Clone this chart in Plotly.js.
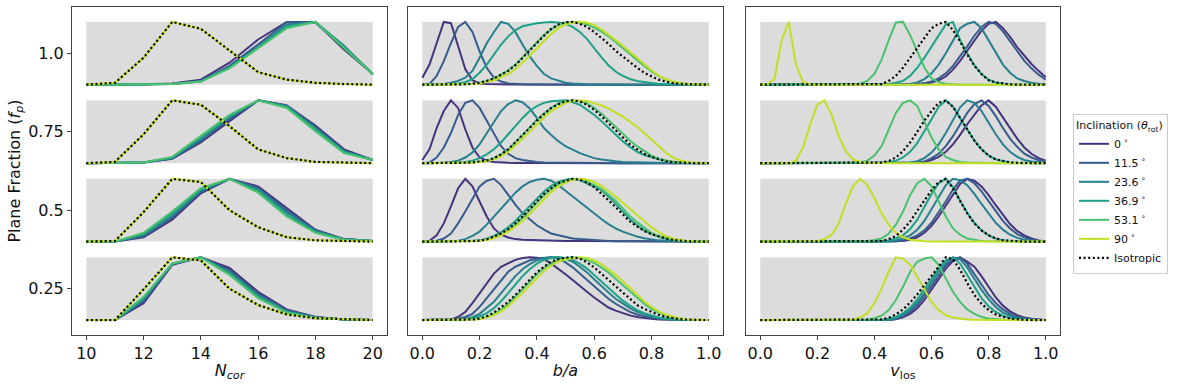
<!DOCTYPE html>
<html>
<head>
<meta charset="utf-8">
<script src="https://cdn.plot.ly/plotly-3.0.1.min.js"></script>
<style>
  html, body { margin: 0; padding: 0; background: #fff; }
  #chart { width: 1177px; height: 386px; }
</style>
</head>
<body>
<div id="chart"></div>
<script>
// plane fractions (one grey band per value) and inclination series
const planeFractions = [1.0, 0.75, 0.5, 0.25];
const seriesNames = ['0<sup> ∘</sup>', '11.5<sup> ∘</sup>', '23.6<sup> ∘</sup>', '36.9<sup> ∘</sup>', '53.1<sup> ∘</sup>', '90<sup> ∘</sup>', 'Isotropic'];
const seriesColors = ['#46337e', '#365c8d', '#277f8e', '#1fa187', '#4ac16d', '#c2df23', '#000000'];

const ncorX = [10, 11, 12, 13, 14, 15, 16, 17, 18, 19, 20];
const unitX = [0, 0.025, 0.05, 0.075, 0.1, 0.125, 0.15, 0.175, 0.2, 0.225, 0.25, 0.275, 0.3, 0.325, 0.35, 0.375,
  0.4, 0.425, 0.45, 0.475, 0.5, 0.525, 0.55, 0.575, 0.6, 0.625, 0.65, 0.675, 0.7, 0.725, 0.75, 0.775,
  0.8, 0.825, 0.85, 0.875, 0.9, 0.925, 0.95, 0.975, 1.0];

// normalised distributions (peak = 1), rows: 0, 11.5, 23.6, 36.9, 53.1, 90 deg, isotropic
const ncorF100 = [
  [0, 0, 0.005, 0.02, 0.08, 0.35, 0.72, 1.0, 0.995, 0.56, 0.17],
  [0, 0, 0.004, 0.015, 0.06, 0.3, 0.64, 1.0, 0.99, 0.6, 0.17],
  [0, 0, 0.003, 0.012, 0.055, 0.28, 0.6, 0.96, 1.0, 0.62, 0.17],
  [0, 0, 0.003, 0.01, 0.05, 0.27, 0.59, 0.93, 1.0, 0.6, 0.17],
  [0, 0, 0.003, 0.01, 0.05, 0.26, 0.58, 0.9, 1.0, 0.58, 0.17],
  [0, 0.03, 0.43, 1.0, 0.89, 0.54, 0.2, 0.08, 0.03, 0.01, 0],
  [0, 0.03, 0.43, 1.0, 0.89, 0.54, 0.2, 0.08, 0.03, 0.01, 0]
];
const ncorF075 = [
  [0, 0, 0.01, 0.07, 0.33, 0.67, 1.0, 0.92, 0.6, 0.22, 0.05],
  [0, 0, 0.01, 0.075, 0.35, 0.7, 1.0, 0.92, 0.58, 0.2, 0.05],
  [0, 0, 0.01, 0.08, 0.38, 0.73, 1.0, 0.91, 0.56, 0.19, 0.05],
  [0, 0, 0.01, 0.09, 0.41, 0.75, 1.0, 0.9, 0.54, 0.18, 0.05],
  [0, 0, 0.01, 0.1, 0.43, 0.77, 1.0, 0.88, 0.51, 0.16, 0.05],
  [0, 0.02, 0.46, 1.0, 0.93, 0.59, 0.22, 0.08, 0.02, 0.005, 0],
  [0, 0.02, 0.46, 1.0, 0.93, 0.59, 0.22, 0.08, 0.02, 0.005, 0]
];
const ncorF050 = [
  [0, 0, 0.07, 0.35, 0.77, 1.0, 0.88, 0.53, 0.19, 0.04, 0.01],
  [0, 0, 0.08, 0.38, 0.79, 1.0, 0.86, 0.5, 0.18, 0.04, 0.01],
  [0, 0, 0.1, 0.41, 0.81, 1.0, 0.84, 0.47, 0.17, 0.04, 0.01],
  [0, 0, 0.12, 0.45, 0.83, 1.0, 0.81, 0.43, 0.15, 0.03, 0.01],
  [0, 0, 0.14, 0.48, 0.85, 1.0, 0.78, 0.4, 0.14, 0.03, 0.01],
  [0, 0.01, 0.47, 1.0, 0.95, 0.5, 0.23, 0.07, 0.02, 0.005, 0],
  [0, 0.01, 0.47, 1.0, 0.95, 0.5, 0.23, 0.07, 0.02, 0.005, 0]
];
const ncorF025 = [
  [0, 0, 0.27, 0.88, 1.0, 0.83, 0.45, 0.17, 0.05, 0.01, 0],
  [0, 0, 0.3, 0.89, 1.0, 0.8, 0.42, 0.16, 0.05, 0.01, 0],
  [0, 0, 0.32, 0.9, 1.0, 0.77, 0.4, 0.14, 0.04, 0.01, 0],
  [0, 0, 0.35, 0.9, 1.0, 0.75, 0.37, 0.13, 0.04, 0.01, 0],
  [0, 0, 0.37, 0.9, 1.0, 0.72, 0.35, 0.12, 0.03, 0.01, 0],
  [0, 0, 0.49, 1.0, 0.95, 0.5, 0.24, 0.09, 0.03, 0.01, 0],
  [0, 0, 0.49, 1.0, 0.95, 0.5, 0.24, 0.09, 0.03, 0.01, 0]
];

const ratioF100 = [
  [0.11, 0.32, 0.66, 1.0, 0.98, 0.6, 0.25, 0.07, 0.02, 0.01, 0.005, 0.004, 0.003, 0.002, 0.002, 0.001, 0.001,
   0, 0, 0, 0, 0, 0, 0, 0, 0, 0, 0, 0, 0, 0, 0, 0, 0, 0, 0, 0, 0, 0, 0, 0],
  [0, 0.01, 0.14, 0.375, 0.66, 0.92, 1.0, 0.84, 0.53, 0.27, 0.11, 0.05, 0.02, 0.01, 0.005, 0.004, 0.003, 0.002, 0.002, 0.001, 0.001,
   0, 0, 0, 0, 0, 0, 0, 0, 0, 0, 0, 0, 0, 0, 0, 0, 0, 0, 0, 0],
  [0, 0, 0.005, 0.01, 0.03, 0.06, 0.11, 0.22, 0.43, 0.66, 0.84, 1.0, 0.97, 0.84, 0.64, 0.45, 0.3, 0.17, 0.1, 0.06, 0.03,
   0.02, 0.01, 0.006, 0.004, 0.002, 0.001, 0, 0, 0, 0, 0, 0, 0, 0, 0, 0, 0, 0, 0, 0],
  [0, 0, 0, 0.005, 0.01, 0.02, 0.04, 0.09, 0.19, 0.32, 0.48, 0.64, 0.77, 0.87, 0.93, 0.96, 0.98, 0.99, 1.0, 0.99, 0.97,
   0.92, 0.84, 0.73, 0.58, 0.44, 0.31, 0.21, 0.14, 0.09, 0.06, 0.04, 0.025, 0.015, 0.01, 0.005, 0, 0, 0, 0, 0],
  [0, 0, 0, 0, 0, 0.003, 0.007, 0.015, 0.03, 0.06, 0.1, 0.16, 0.23, 0.32, 0.44, 0.56, 0.68, 0.79, 0.88, 0.95, 0.99,
   1.0, 0.99, 0.96, 0.91, 0.85, 0.77, 0.68, 0.59, 0.49, 0.39, 0.3, 0.21, 0.14, 0.08, 0.045, 0.02, 0.01, 0.005, 0, 0],
  [0, 0, 0, 0, 0, 0.002, 0.005, 0.01, 0.02, 0.04, 0.07, 0.12, 0.17, 0.25, 0.35, 0.46, 0.58, 0.7, 0.81, 0.9, 0.96,
   0.99, 1.0, 0.99, 0.95, 0.88, 0.8, 0.71, 0.62, 0.52, 0.42, 0.32, 0.23, 0.15, 0.09, 0.05, 0.025, 0.01, 0.005, 0, 0],
  [0, 0, 0, 0, 0, 0.003, 0.007, 0.015, 0.03, 0.06, 0.1, 0.16, 0.22, 0.31, 0.43, 0.54, 0.66, 0.78, 0.89, 0.96, 0.995,
   1.0, 0.97, 0.92, 0.84, 0.75, 0.65, 0.54, 0.45, 0.35, 0.27, 0.19, 0.13, 0.08, 0.05, 0.025, 0.015, 0.008, 0.004, 0, 0]
];
const ratioF075 = [
  [0.05, 0.22, 0.56, 0.83, 1.0, 0.88, 0.54, 0.25, 0.09, 0.04, 0.02, 0.01, 0.005, 0.004, 0.003, 0.002, 0.002, 0.001, 0.001, 0.001,
   0, 0, 0, 0, 0, 0, 0, 0, 0, 0, 0, 0, 0, 0, 0, 0, 0, 0, 0, 0, 0],
  [0, 0.01, 0.09, 0.25, 0.48, 0.77, 0.96, 1.0, 0.88, 0.67, 0.46, 0.27, 0.15, 0.08, 0.05, 0.03, 0.02, 0.01, 0.008, 0.006,
   0.005, 0.004, 0.003, 0.002, 0.001, 0, 0, 0, 0, 0, 0, 0, 0, 0, 0, 0, 0, 0, 0, 0, 0],
  [0, 0, 0, 0.005, 0.02, 0.04, 0.09, 0.17, 0.3, 0.48, 0.67, 0.83, 0.94, 1.0, 0.97, 0.87, 0.72, 0.56, 0.45, 0.35,
   0.27, 0.21, 0.16, 0.12, 0.08, 0.06, 0.04, 0.03, 0.02, 0.015, 0.01, 0.005, 0.004, 0.003, 0.002, 0.001, 0, 0, 0, 0, 0],
  [0, 0, 0, 0, 0.005, 0.01, 0.02, 0.04, 0.08, 0.14, 0.22, 0.33, 0.46, 0.59, 0.72, 0.83, 0.91, 0.96, 0.985, 0.995,
   1.0, 0.97, 0.93, 0.85, 0.77, 0.67, 0.56, 0.46, 0.35, 0.26, 0.18, 0.13, 0.09, 0.06, 0.035, 0.02, 0.01, 0.005, 0, 0, 0],
  [0, 0, 0, 0, 0, 0.003, 0.007, 0.015, 0.025, 0.04, 0.08, 0.14, 0.22, 0.33, 0.45, 0.57, 0.69, 0.79, 0.88, 0.95,
   0.99, 1.0, 0.99, 0.95, 0.88, 0.79, 0.69, 0.58, 0.47, 0.36, 0.27, 0.19, 0.12, 0.07, 0.04, 0.02, 0.01, 0.004, 0, 0, 0],
  [0, 0, 0, 0, 0, 0.002, 0.005, 0.01, 0.018, 0.03, 0.06, 0.11, 0.18, 0.28, 0.39, 0.5, 0.62, 0.73, 0.83, 0.9,
   0.96, 0.99, 1.0, 0.99, 0.96, 0.92, 0.87, 0.81, 0.74, 0.66, 0.58, 0.48, 0.38, 0.27, 0.17, 0.09, 0.045, 0.02, 0.008, 0.003, 0],
  [0, 0, 0, 0, 0, 0.003, 0.007, 0.013, 0.022, 0.04, 0.08, 0.14, 0.22, 0.33, 0.45, 0.56, 0.68, 0.78, 0.88, 0.94,
   0.985, 1.0, 0.985, 0.93, 0.85, 0.75, 0.64, 0.52, 0.41, 0.3, 0.22, 0.15, 0.1, 0.06, 0.03, 0.015, 0.008, 0.004, 0, 0, 0]
];
const ratioF050 = [
  [0, 0.015, 0.1, 0.29, 0.56, 0.85, 1.0, 0.88, 0.64, 0.4, 0.21, 0.11, 0.065, 0.04, 0.03, 0.025, 0.02, 0.015, 0.012, 0.01,
   0.01, 0.008, 0.008, 0.007, 0.006, 0.005, 0.005, 0.004, 0.004, 0.003, 0.003, 0.002, 0.002, 0.001, 0, 0, 0, 0, 0, 0, 0],
  [0, 0, 0.015, 0.05, 0.13, 0.29, 0.48, 0.69, 0.88, 0.97, 1.0, 0.9, 0.74, 0.59, 0.45, 0.35, 0.26, 0.19, 0.13, 0.1,
   0.07, 0.05, 0.04, 0.03, 0.02, 0.015, 0.01, 0.007, 0.005, 0.004, 0.003, 0.002, 0.001, 0, 0, 0, 0, 0, 0, 0, 0],
  [0, 0, 0, 0.003, 0.007, 0.015, 0.04, 0.09, 0.16, 0.27, 0.4, 0.53, 0.66, 0.78, 0.88, 0.95, 0.985, 1.0, 0.97, 0.9,
   0.81, 0.72, 0.63, 0.53, 0.44, 0.36, 0.28, 0.21, 0.16, 0.12, 0.08, 0.055, 0.035, 0.02, 0.012, 0.006, 0.003, 0, 0, 0, 0],
  [0, 0, 0, 0, 0.002, 0.004, 0.007, 0.01, 0.02, 0.045, 0.09, 0.15, 0.23, 0.33, 0.45, 0.57, 0.69, 0.8, 0.89, 0.95,
   0.985, 1.0, 0.98, 0.93, 0.87, 0.82, 0.72, 0.6, 0.47, 0.36, 0.26, 0.18, 0.12, 0.075, 0.045, 0.025, 0.012, 0.005, 0, 0, 0],
  [0, 0, 0, 0, 0, 0.002, 0.004, 0.007, 0.012, 0.03, 0.065, 0.11, 0.18, 0.27, 0.38, 0.5, 0.62, 0.74, 0.84, 0.92,
   0.97, 0.995, 1.0, 0.96, 0.9, 0.84, 0.75, 0.65, 0.53, 0.41, 0.31, 0.22, 0.14, 0.09, 0.055, 0.03, 0.015, 0.007, 0.003, 0, 0],
  [0, 0, 0, 0, 0, 0.001, 0.003, 0.006, 0.01, 0.025, 0.055, 0.1, 0.16, 0.24, 0.33, 0.44, 0.56, 0.68, 0.79, 0.88,
   0.94, 0.98, 1.0, 0.99, 0.95, 0.89, 0.81, 0.72, 0.62, 0.52, 0.42, 0.32, 0.23, 0.15, 0.09, 0.05, 0.025, 0.01, 0.004, 0, 0],
  [0, 0, 0, 0, 0, 0.002, 0.004, 0.008, 0.015, 0.035, 0.08, 0.13, 0.2, 0.29, 0.4, 0.52, 0.64, 0.76, 0.85, 0.93,
   0.97, 1.0, 0.985, 0.94, 0.87, 0.77, 0.66, 0.55, 0.43, 0.32, 0.24, 0.17, 0.12, 0.08, 0.05, 0.027, 0.014, 0.007, 0.003, 0, 0]
];
const ratioF025 = [
  [0, 0, 0.002, 0.005, 0.01, 0.05, 0.13, 0.27, 0.43, 0.59, 0.74, 0.85, 0.9, 0.96, 0.99, 1.0, 0.995, 0.97, 0.9, 0.82,
   0.73, 0.64, 0.54, 0.45, 0.36, 0.28, 0.2, 0.15, 0.11, 0.075, 0.05, 0.03, 0.02, 0.01, 0.005, 0, 0, 0, 0, 0, 0],
  [0, 0, 0, 0.003, 0.008, 0.02, 0.05, 0.1, 0.21, 0.35, 0.49, 0.64, 0.77, 0.85, 0.9, 0.95, 0.98, 0.995, 1.0, 0.98,
   0.92, 0.84, 0.74, 0.64, 0.54, 0.44, 0.34, 0.26, 0.19, 0.13, 0.09, 0.06, 0.035, 0.02, 0.01, 0.005, 0, 0, 0, 0, 0],
  [0, 0, 0, 0, 0.004, 0.01, 0.02, 0.045, 0.1, 0.19, 0.29, 0.43, 0.57, 0.7, 0.81, 0.89, 0.95, 0.985, 1.0, 1.0,
   0.98, 0.93, 0.85, 0.76, 0.65, 0.54, 0.44, 0.34, 0.26, 0.19, 0.13, 0.09, 0.06, 0.035, 0.02, 0.01, 0.005, 0, 0, 0, 0],
  [0, 0, 0, 0, 0.003, 0.007, 0.015, 0.03, 0.06, 0.11, 0.19, 0.3, 0.43, 0.57, 0.7, 0.81, 0.9, 0.96, 0.99, 1.0,
   0.99, 0.96, 0.9, 0.82, 0.72, 0.62, 0.51, 0.41, 0.31, 0.23, 0.16, 0.11, 0.07, 0.04, 0.022, 0.01, 0.005, 0, 0, 0, 0],
  [0, 0, 0, 0, 0, 0.003, 0.006, 0.01, 0.02, 0.05, 0.1, 0.17, 0.26, 0.37, 0.49, 0.61, 0.73, 0.83, 0.91, 0.96,
   0.99, 1.0, 0.99, 0.96, 0.91, 0.84, 0.76, 0.66, 0.56, 0.45, 0.35, 0.26, 0.18, 0.12, 0.07, 0.04, 0.02, 0.008, 0.003, 0, 0],
  [0, 0, 0, 0, 0, 0.002, 0.004, 0.008, 0.015, 0.04, 0.08, 0.14, 0.22, 0.32, 0.43, 0.55, 0.67, 0.78, 0.87, 0.93,
   0.97, 0.99, 1.0, 0.99, 0.95, 0.89, 0.81, 0.72, 0.62, 0.51, 0.4, 0.3, 0.21, 0.14, 0.085, 0.05, 0.025, 0.01, 0.004, 0, 0],
  [0, 0, 0, 0, 0, 0.002, 0.005, 0.01, 0.025, 0.06, 0.12, 0.2, 0.29, 0.4, 0.52, 0.64, 0.76, 0.85, 0.93, 0.97,
   0.995, 1.0, 0.98, 0.92, 0.84, 0.74, 0.64, 0.53, 0.43, 0.33, 0.24, 0.18, 0.13, 0.085, 0.05, 0.03, 0.015, 0.007, 0.003, 0, 0]
];

const vlosF100 = [
  [0, 0, 0, 0, 0, 0, 0, 0, 0, 0, 0, 0, 0, 0, 0, 0, 0, 0, 0, 0,
   0.002, 0.004, 0.008, 0.015, 0.035, 0.07, 0.13, 0.24, 0.38, 0.54, 0.71, 0.86, 0.97, 1.0, 0.9, 0.76, 0.6, 0.46, 0.33, 0.22, 0.12],
  [0, 0, 0, 0, 0, 0, 0, 0, 0, 0, 0, 0, 0, 0, 0, 0, 0, 0, 0, 0,
   0.002, 0.005, 0.01, 0.025, 0.05, 0.1, 0.18, 0.3, 0.45, 0.61, 0.78, 0.92, 1.0, 0.97, 0.85, 0.69, 0.53, 0.38, 0.26, 0.16, 0.08],
  [0, 0, 0, 0, 0, 0, 0, 0, 0, 0, 0, 0, 0, 0, 0, 0, 0, 0, 0, 0.002,
   0.004, 0.01, 0.035, 0.09, 0.18, 0.32, 0.5, 0.71, 0.9, 0.97, 1.0, 0.9, 0.71, 0.5, 0.32, 0.19, 0.1, 0.06, 0.03, 0.015, 0.01],
  [0, 0, 0, 0, 0, 0, 0, 0, 0, 0, 0, 0, 0, 0, 0, 0, 0, 0.002, 0.01, 0.03,
   0.06, 0.14, 0.27, 0.43, 0.61, 0.79, 0.96, 1.0, 0.71, 0.5, 0.31, 0.17, 0.08, 0.035, 0.015, 0.005, 0, 0, 0, 0, 0],
  [0, 0, 0, 0, 0, 0, 0, 0, 0, 0, 0, 0, 0, 0, 0.02, 0.06, 0.17, 0.4, 0.71, 0.99,
   1.0, 0.79, 0.53, 0.27, 0.1, 0.04, 0.015, 0.005, 0, 0, 0, 0, 0, 0, 0, 0, 0, 0, 0, 0, 0],
  [0, 0.01, 0.09, 0.71, 1.0, 0.32, 0.04, 0.005, 0, 0, 0, 0, 0, 0, 0, 0, 0, 0, 0, 0,
   0, 0, 0, 0, 0, 0, 0, 0, 0, 0, 0, 0, 0, 0, 0, 0, 0, 0, 0, 0, 0],
  [0, 0, 0, 0, 0, 0, 0, 0, 0, 0, 0, 0, 0, 0, 0, 0, 0, 0.01, 0.06, 0.14,
   0.27, 0.43, 0.58, 0.74, 0.9, 0.97, 1.0, 0.87, 0.69, 0.48, 0.3, 0.17, 0.07, 0.035, 0.015, 0.005, 0, 0, 0, 0, 0]
];
const vlosF075 = [
  [0, 0, 0, 0, 0, 0, 0, 0, 0, 0, 0, 0, 0, 0, 0, 0, 0, 0, 0, 0,
   0, 0, 0.005, 0.02, 0.05, 0.1, 0.18, 0.3, 0.45, 0.62, 0.78, 0.92, 1.0, 0.9, 0.73, 0.55, 0.39, 0.25, 0.15, 0.08, 0.04],
  [0, 0, 0, 0, 0, 0, 0, 0, 0, 0, 0, 0, 0, 0, 0, 0, 0, 0, 0, 0,
   0, 0, 0.01, 0.025, 0.08, 0.15, 0.27, 0.43, 0.62, 0.8, 0.94, 1.0, 0.91, 0.75, 0.56, 0.39, 0.26, 0.15, 0.09, 0.05, 0.025],
  [0, 0, 0, 0, 0, 0, 0, 0, 0, 0, 0, 0, 0, 0, 0, 0, 0, 0, 0, 0,
   0, 0.01, 0.03, 0.08, 0.17, 0.3, 0.48, 0.69, 0.89, 1.0, 0.96, 0.83, 0.64, 0.46, 0.3, 0.18, 0.1, 0.05, 0.025, 0.012, 0.005],
  [0, 0, 0, 0, 0, 0, 0, 0, 0, 0, 0, 0, 0, 0, 0, 0, 0, 0.005, 0.015, 0.04,
   0.09, 0.18, 0.32, 0.5, 0.7, 0.9, 1.0, 0.9, 0.72, 0.54, 0.36, 0.22, 0.12, 0.06, 0.03, 0.012, 0.005, 0, 0, 0, 0],
  [0, 0, 0, 0, 0, 0, 0, 0, 0, 0, 0, 0, 0, 0, 0.01, 0.04, 0.12, 0.27, 0.54, 0.8,
   0.96, 1.0, 0.91, 0.67, 0.41, 0.22, 0.1, 0.05, 0.02, 0.01, 0.005, 0, 0, 0, 0, 0, 0, 0, 0, 0, 0],
  [0, 0, 0, 0, 0, 0.04, 0.25, 0.62, 0.93, 1.0, 0.77, 0.43, 0.19, 0.06, 0.02, 0.005, 0, 0, 0, 0,
   0, 0, 0, 0, 0, 0, 0, 0, 0, 0, 0, 0, 0, 0, 0, 0, 0, 0, 0, 0, 0],
  [0, 0, 0, 0, 0, 0, 0, 0, 0, 0, 0, 0, 0, 0, 0, 0, 0, 0.01, 0.035, 0.09,
   0.19, 0.33, 0.5, 0.68, 0.83, 0.96, 1.0, 0.9, 0.72, 0.54, 0.36, 0.22, 0.12, 0.06, 0.03, 0.012, 0.005, 0, 0, 0, 0]
];
const vlosF050 = [
  [0, 0, 0, 0, 0, 0, 0, 0, 0, 0, 0, 0, 0, 0, 0, 0, 0, 0, 0, 0,
   0.01, 0.03, 0.07, 0.14, 0.25, 0.4, 0.57, 0.75, 0.92, 1.0, 0.97, 0.88, 0.74, 0.58, 0.42, 0.28, 0.17, 0.1, 0.05, 0.02, 0.008],
  [0, 0, 0, 0, 0, 0, 0, 0, 0, 0, 0, 0, 0, 0, 0, 0, 0, 0, 0, 0,
   0.02, 0.05, 0.1, 0.18, 0.3, 0.46, 0.64, 0.83, 0.97, 1.0, 0.93, 0.8, 0.64, 0.48, 0.33, 0.21, 0.12, 0.07, 0.035, 0.015, 0.006],
  [0, 0, 0, 0, 0, 0, 0, 0, 0, 0, 0, 0, 0, 0, 0, 0, 0, 0, 0, 0.02,
   0.05, 0.1, 0.19, 0.33, 0.52, 0.73, 0.9, 1.0, 0.98, 0.9, 0.76, 0.6, 0.44, 0.3, 0.19, 0.11, 0.06, 0.03, 0.015, 0.007, 0.003],
  [0, 0, 0, 0, 0, 0, 0, 0, 0, 0, 0, 0, 0, 0, 0, 0, 0, 0, 0.02, 0.05,
   0.1, 0.2, 0.35, 0.55, 0.76, 0.93, 1.0, 0.87, 0.65, 0.46, 0.3, 0.18, 0.1, 0.05, 0.02, 0.01, 0.004, 0, 0, 0, 0],
  [0, 0, 0, 0, 0, 0, 0, 0, 0, 0, 0, 0, 0, 0, 0, 0.01, 0.025, 0.05, 0.13, 0.27,
   0.48, 0.74, 0.93, 1.0, 0.88, 0.64, 0.4, 0.21, 0.11, 0.05, 0.025, 0.01, 0.005, 0, 0, 0, 0, 0, 0, 0, 0],
  [0, 0, 0, 0, 0, 0, 0, 0, 0.01, 0.04, 0.11, 0.29, 0.61, 0.88, 1.0, 0.9, 0.69, 0.45, 0.27, 0.14,
   0.07, 0.03, 0.015, 0.007, 0.003, 0, 0, 0, 0, 0, 0, 0, 0, 0, 0, 0, 0, 0, 0, 0, 0],
  [0, 0, 0, 0, 0, 0, 0, 0, 0, 0, 0, 0, 0, 0, 0, 0, 0, 0.01, 0.04, 0.09,
   0.19, 0.32, 0.49, 0.66, 0.82, 0.95, 1.0, 0.85, 0.64, 0.45, 0.29, 0.18, 0.1, 0.05, 0.02, 0.01, 0.004, 0, 0, 0, 0]
];
const vlosF025 = [
  [0, 0, 0, 0, 0, 0, 0, 0, 0, 0, 0, 0, 0, 0, 0, 0, 0, 0, 0, 0.015,
   0.045, 0.1, 0.19, 0.32, 0.48, 0.65, 0.82, 0.94, 1.0, 0.93, 0.85, 0.7, 0.52, 0.36, 0.23, 0.14, 0.08, 0.04, 0.02, 0.008, 0.003],
  [0, 0, 0, 0, 0, 0, 0, 0, 0, 0, 0, 0, 0, 0, 0, 0, 0, 0, 0, 0.02,
   0.06, 0.13, 0.24, 0.38, 0.55, 0.72, 0.87, 0.97, 1.0, 0.9, 0.74, 0.56, 0.4, 0.27, 0.17, 0.1, 0.05, 0.025, 0.01, 0.004, 0],
  [0, 0, 0, 0, 0, 0, 0, 0, 0, 0, 0, 0, 0, 0, 0, 0, 0, 0, 0, 0.03,
   0.08, 0.16, 0.28, 0.43, 0.6, 0.77, 0.91, 1.0, 0.97, 0.84, 0.66, 0.48, 0.33, 0.21, 0.12, 0.07, 0.035, 0.015, 0.006, 0, 0],
  [0, 0, 0, 0, 0, 0, 0, 0, 0, 0, 0, 0, 0, 0, 0, 0, 0, 0, 0.02, 0.05,
   0.11, 0.2, 0.33, 0.49, 0.66, 0.82, 0.95, 1.0, 0.9, 0.72, 0.52, 0.35, 0.22, 0.13, 0.07, 0.035, 0.015, 0.006, 0, 0, 0],
  [0, 0, 0, 0, 0, 0, 0, 0, 0, 0, 0, 0, 0, 0, 0, 0.01, 0.03, 0.07, 0.16, 0.32,
   0.53, 0.77, 0.93, 0.98, 1.0, 0.88, 0.66, 0.45, 0.29, 0.17, 0.1, 0.05, 0.025, 0.01, 0.005, 0, 0, 0, 0, 0, 0],
  [0, 0, 0, 0, 0, 0, 0, 0, 0, 0, 0, 0, 0, 0.01, 0.04, 0.11, 0.27, 0.5, 0.77, 1.0,
   0.98, 0.88, 0.69, 0.48, 0.29, 0.16, 0.08, 0.04, 0.02, 0.01, 0.005, 0, 0, 0, 0, 0, 0, 0, 0, 0, 0],
  [0, 0, 0, 0, 0, 0, 0, 0, 0, 0, 0, 0, 0, 0, 0, 0, 0, 0.01, 0.035, 0.09,
   0.17, 0.28, 0.41, 0.56, 0.72, 0.86, 1.0, 0.97, 0.8, 0.59, 0.4, 0.26, 0.16, 0.09, 0.05, 0.025, 0.01, 0.004, 0, 0, 0]
];

const bandHalf = 0.1;   // half height of each grey band
const font = 'DejaVu Sans';

const panels = [
  { x: ncorX, rows: [ncorF100, ncorF075, ncorF050, ncorF025], xa: 'x', ya: 'y' },
  { x: unitX, rows: [ratioF100, ratioF075, ratioF050, ratioF025], xa: 'x2', ya: 'y2' },
  { x: unitX, rows: [vlosF100, vlosF075, vlosF050, vlosF025], xa: 'x3', ya: 'y3' }
];

const traces = [];
const shapes = [];
panels.forEach((p, pi) => {
  p.rows.forEach((row, ri) => {
    const f = planeFractions[ri];
    const base = f - bandHalf;
    shapes.push({
      type: 'rect', xref: p.xa, yref: p.ya, layer: 'below',
      x0: p.x[0], x1: p.x[p.x.length - 1], y0: f - bandHalf, y1: f + bandHalf,
      fillcolor: '#dcdcdc', line: { width: 0 }
    });
    row.forEach((vals, si) => {
      if (vals.length !== p.x.length) throw new Error(`length ${vals.length} panel ${pi} row ${ri} series ${si}`);
      const iso = si === seriesNames.length - 1;
      traces.push({
        x: p.x,
        y: vals.map(v => base + 2 * bandHalf * v),
        xaxis: p.xa, yaxis: p.ya,
        type: 'scatter', mode: 'lines',
        name: seriesNames[si],
        legendgroup: 's' + si,
        showlegend: pi === 0 && ri === 0,
        line: { color: seriesColors[si], width: iso ? 2.2 : 2, dash: iso ? '2px,2.6px' : 'solid' },
        hoverinfo: 'skip'
      });
    });
  });
});

const W = 1177, H = 386;
const frame = {
  showline: true, mirror: true, linecolor: '#444', linewidth: 1,
  showgrid: false, zeroline: false, ticks: 'outside', ticklen: 4, tickwidth: 1, tickcolor: '#444',
  tickfont: { family: font, size: 16, color: '#111' }
};
const yDomain = [1 - 335 / H, 1 - 7 / H];
const yRange = [0.1025, 1.1475];
const xTitle = text => ({ text: text, font: { family: font, size: 16 }, standoff: 2 });

const layout = {
  width: W, height: H,
  margin: { l: 0, r: 0, t: 0, b: 0 },
  paper_bgcolor: '#fff', plot_bgcolor: '#fff',
  font: { family: font, color: '#111' },
  shapes: shapes,
  xaxis: Object.assign({}, frame, {
    domain: [72 / W, 387 / W], range: [9.5, 20.5], tickvals: [10, 12, 14, 16, 18, 20],
    title: xTitle('<i>N<sub>cor</sub></i>')
  }),
  xaxis2: Object.assign({}, frame, {
    domain: [408 / W, 723 / W], range: [-0.05, 1.05], tickvals: [0, 0.2, 0.4, 0.6, 0.8, 1.0],
    ticktext: ['0.0', '0.2', '0.4', '0.6', '0.8', '1.0'],
    title: xTitle('<i>b/a</i>')
  }),
  xaxis3: Object.assign({}, frame, {
    domain: [746 / W, 1060 / W], range: [-0.05, 1.05], tickvals: [0, 0.2, 0.4, 0.6, 0.8, 1.0],
    ticktext: ['0.0', '0.2', '0.4', '0.6', '0.8', '1.0'],
    title: xTitle('<i>v</i><sub>los</sub>')
  }),
  yaxis: Object.assign({}, frame, {
    domain: yDomain, range: yRange, tickvals: [0.25, 0.5, 0.75, 1.0], ticktext: ['0.25', '0.5', '0.75', '1.0'],
    title: { text: 'Plane Fraction (<i>f<sub>p</sub></i>)', font: { family: font, size: 16 } }
  }),
  yaxis2: Object.assign({}, frame, { domain: yDomain, range: yRange, ticks: '', showticklabels: false, anchor: 'x2' }),
  yaxis3: Object.assign({}, frame, { domain: yDomain, range: yRange, ticks: '', showticklabels: false, anchor: 'x3' }),
  legend: {
    x: 1073 / W, xanchor: 'left', y: 1 - 194 / H, yanchor: 'middle',
    bgcolor: 'rgba(255,255,255,0.8)', bordercolor: '#cccccc', borderwidth: 1,
    font: { family: font, size: 11, color: '#111' },
    title: { text: 'Inclination (<i>θ</i><sub>rot</sub>)', font: { family: font, size: 11 } },
    tracegroupgap: 0
  },
  showlegend: true
};
layout.xaxis2.anchor = 'y2';
layout.xaxis3.anchor = 'y3';

Plotly.newPlot('chart', traces, layout, { displayModeBar: false, staticPlot: true });
</script>
</body>
</html>
